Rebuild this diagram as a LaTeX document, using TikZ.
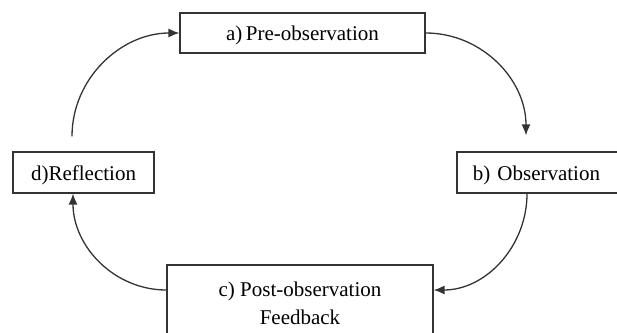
\documentclass[tikz,border=0pt]{standalone}
\usepackage{fontspec}
\setmainfont{Liberation Serif}
\usetikzlibrary{arrows.meta}
\newcommand{\lowertext}[1]{\raisebox{-2.5pt}[\height][\depth]{#1}}
\begin{document}
\begin{tikzpicture}[x=1pt,y=-1pt,
  box/.style={draw=black!80,line width=1.2pt,rectangle,inner sep=0pt,align=center,
    font=\fontsize{21}{28}\selectfont},
  conn/.style={draw=black!80,line width=1.3pt,-{Latex[length=11pt,width=9pt]}}]
\useasboundingbox (0,0) rectangle (617,332);
\node[box,minimum width=245pt,minimum height=40pt] (a) at (302.5,33) {\lowertext{a)\,Pre-observation}};
\node[box,minimum width=141pt,minimum height=41pt] (d) at (83.5,172.5) {\lowertext{d)Reflection}};
\node[box,minimum width=165pt,minimum height=41pt,text width=165pt] (b) at (539.5,172.5) {\hspace*{-6pt}\lowertext{b) Observation}};
\node[box,minimum width=266pt,minimum height=76pt] (c) at (300,303) {c) Post-observation\\Feedback};
\draw[conn] (a.east) to[out=0,in=90] ([xshift=-13.5pt,yshift=16pt]b.north);
\draw[conn] ([xshift=-12.5pt]b.south) to[out=-90,in=0] ([yshift=13pt]c.east);
\draw[conn] ([yshift=13pt]c.west) to[out=180,in=-90] ([xshift=-10.5pt]d.south);
\draw[conn] ([xshift=-11.5pt,yshift=15pt]d.north) to[out=90,in=180] (a.west);
\end{tikzpicture}
\end{document}
